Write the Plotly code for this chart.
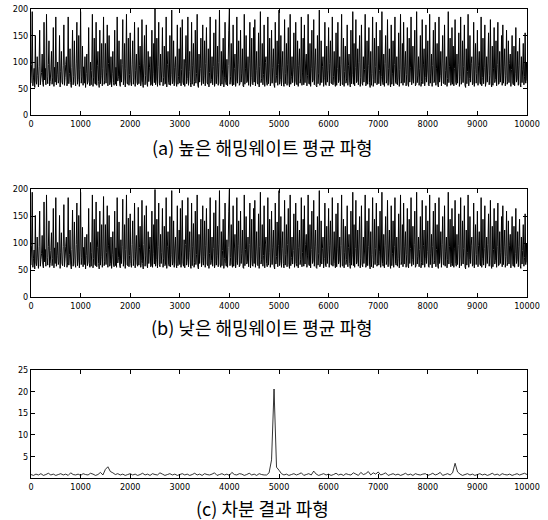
import plotly.graph_objects as go

# ---- data ----
series_a = [
    60, 95, 195, 55, 70, 88, 52, 150, 64, 58, 110, 75, 53, 92, 160, 57, 68, 80, 115, 61, 54, 175, 66, 88, 57, 190, 72, 59, 95, 140, 55, 63, 85, 120, 58, 70, 165, 54, 90, 62,
    185, 57, 76, 100, 60, 66, 150, 53, 82, 120, 62, 58, 94, 170, 56, 71, 95, 110, 55, 64, 185, 59, 78, 125, 61, 52, 89, 160, 57, 73, 140, 62, 55, 98, 175, 58, 67, 150, 54, 86,
    195, 60, 72, 130, 56, 91, 60, 110, 52, 78, 115, 58, 66, 165, 62, 55, 100, 57, 84, 190, 54, 70, 145, 60, 58, 175, 56, 93, 120, 63, 52, 160, 59, 74, 135, 55, 88, 185, 58, 65,
    135, 60, 81, 170, 55, 97, 150, 57, 62, 110, 53, 79, 120, 61, 56, 160, 58, 90, 55, 185, 64, 72, 140, 59, 54, 105, 62, 95, 180, 57, 68, 135, 53, 87, 190, 60, 58, 145, 56, 76,
    155, 62, 55, 96, 140, 58, 70, 175, 54, 84, 115, 61, 57, 165, 59, 93, 130, 55, 66, 180, 62, 52, 98, 150, 57, 75, 170, 60, 54, 120, 63, 89, 110, 56, 58, 160, 55, 79, 135, 61,
    200, 57, 68, 145, 54, 92, 175, 60, 56, 115, 62, 83, 165, 55, 71, 130, 58, 60, 185, 53, 95, 120, 61, 57, 150, 56, 77, 198, 59, 64, 140, 55, 90, 110, 62, 54, 170, 58, 73, 125,
    60, 165, 55, 86, 180, 62, 57, 105, 54, 98, 150, 59, 69, 185, 56, 82, 120, 61, 53, 175, 58, 94, 135, 55, 63, 160, 60, 78, 190, 57, 52, 115, 62, 88, 145, 56, 66, 170, 59, 74,
    140, 55, 97, 165, 61, 58, 125, 53, 80, 185, 60, 67, 110, 57, 91, 155, 54, 62, 180, 59, 76, 130, 56, 99, 198, 61, 55, 120, 58, 85, 145, 53, 70, 175, 62, 57, 105, 55, 93, 160,
    200, 58, 72, 135, 61, 55, 170, 57, 88, 115, 54, 66, 185, 60, 96, 140, 56, 59, 160, 62, 79, 125, 55, 53, 190, 58, 87, 150, 61, 64, 110, 56, 98, 175, 54, 71, 145, 59, 57, 165,
    62, 180, 55, 84, 120, 60, 58, 155, 53, 92, 195, 61, 69, 135, 57, 76, 170, 54, 99, 110, 62, 56, 185, 59, 81, 145, 55, 63, 160, 60, 90, 125, 57, 52, 175, 61, 74, 140, 56, 95,
    198, 58, 67, 150, 55, 89, 120, 62, 54, 180, 59, 78, 135, 56, 96, 165, 60, 53, 190, 58, 72, 110, 61, 85, 155, 55, 64, 175, 62, 57, 140, 54, 93, 125, 60, 68, 185, 56, 81, 145,
    57, 170, 61, 98, 115, 55, 75, 190, 60, 58, 135, 54, 87, 160, 62, 66, 180, 57, 94, 125, 55, 53, 150, 59, 79, 198, 56, 62, 140, 61, 91, 110, 54, 70, 175, 58, 56, 130, 62, 84,
    165, 55, 97, 140, 60, 59, 185, 57, 73, 120, 62, 54, 155, 56, 88, 175, 61, 65, 110, 55, 96, 190, 58, 57, 145, 54, 82, 130, 60, 68, 170, 56, 93, 115, 62, 53, 160, 59, 77, 195,
    58, 135, 55, 89, 180, 61, 64, 125, 57, 99, 150, 54, 71, 170, 60, 56, 110, 62, 86, 190, 55, 59, 140, 58, 94, 165, 61, 52, 120, 56, 78, 185, 54, 67, 145, 60, 91, 175, 57, 62,
    130, 59, 84, 160, 55, 73, 195, 62, 57, 115, 54, 97, 150, 60, 66, 180, 56, 88, 125, 61, 53, 170, 58, 79, 140, 55, 95, 185, 62, 59, 110, 57, 70, 155, 54, 86, 190, 60, 64, 135,
    56, 175, 61, 92, 120, 55, 77, 165, 58, 54, 145, 62, 89, 185, 57, 68, 130, 60, 98, 160, 55, 58, 195, 61, 74, 110, 56, 87, 150, 54, 63, 180, 59, 96, 125, 55, 71, 170, 62, 83,
    140, 57, 55, 190, 60, 79, 115, 54, 93, 160, 61, 66, 175, 56, 87, 135, 58, 53, 185, 62, 75, 120, 55, 98, 150, 60, 59, 170, 57, 84, 110, 54, 69, 195, 61, 92, 145, 56, 62, 165,
    58, 130, 55, 88, 180, 62, 57, 115, 60, 96, 155, 54, 73, 185, 58, 64, 140, 61, 91, 170, 56, 52, 125, 59, 82, 190, 55, 69, 150, 62, 97, 110, 57, 60, 175, 54, 86, 135, 60, 78,
    160, 56, 94, 120, 61, 58, 185, 55, 71, 145, 59, 89, 170, 54, 63, 110, 62, 98, 155, 57, 75, 180, 60, 53, 130, 56, 87, 165, 61, 67, 140, 55, 95, 175, 58, 59, 120, 62, 81, 150,
    56, 170, 60, 92, 125, 55, 74, 160, 58, 63, 140, 61, 97, 115, 54, 86, 150, 60, 57, 130, 55, 79, 165, 62, 68, 120, 56, 94, 145, 59, 53, 110, 61, 85, 135, 57, 72, 155, 60, 100,
    65,
]
series_b = [
    59, 96, 194, 55, 71, 87, 52, 151, 63, 58, 111, 74, 53, 93, 159, 57, 69, 80, 114, 61, 54, 176, 65, 88, 57, 189, 73, 59, 94, 141, 55, 62, 86, 119, 58, 71, 164, 54, 91, 62,
    184, 57, 77, 101, 60, 65, 151, 53, 83, 119, 62, 58, 93, 171, 56, 72, 94, 111, 55, 63, 184, 59, 79, 124, 61, 52, 88, 161, 57, 74, 139, 62, 55, 97, 174, 58, 68, 151, 54, 85,
    194, 60, 73, 129, 56, 92, 60, 111, 52, 77, 116, 58, 67, 164, 62, 55, 101, 57, 83, 189, 54, 71, 144, 60, 58, 176, 56, 92, 121, 62, 52, 159, 59, 75, 134, 55, 87, 186, 58, 66,
    134, 60, 82, 169, 55, 96, 151, 57, 62, 111, 53, 78, 121, 61, 56, 159, 58, 91, 55, 184, 63, 73, 139, 59, 54, 106, 62, 94, 181, 57, 69, 134, 53, 88, 189, 60, 58, 146, 56, 77,
    154, 62, 55, 97, 141, 58, 71, 174, 54, 85, 114, 61, 57, 166, 59, 92, 131, 55, 67, 179, 62, 52, 97, 151, 57, 76, 169, 60, 54, 121, 62, 88, 111, 56, 58, 159, 55, 80, 134, 61,
    199, 57, 69, 144, 54, 93, 174, 60, 56, 116, 62, 82, 164, 55, 72, 131, 58, 60, 184, 53, 94, 121, 61, 57, 149, 56, 78, 197, 59, 65, 141, 55, 89, 111, 62, 54, 169, 58, 74, 124,
    60, 164, 55, 87, 179, 62, 57, 106, 54, 97, 151, 59, 70, 184, 56, 83, 121, 61, 53, 174, 58, 93, 136, 55, 64, 159, 60, 79, 189, 57, 52, 116, 62, 87, 144, 56, 67, 169, 59, 75,
    141, 55, 96, 164, 61, 58, 126, 53, 81, 184, 60, 68, 111, 57, 90, 156, 54, 62, 179, 59, 77, 131, 56, 98, 197, 61, 55, 121, 58, 86, 144, 53, 71, 174, 62, 57, 106, 55, 92, 159,
    199, 58, 73, 134, 61, 55, 169, 57, 89, 116, 54, 67, 184, 60, 95, 141, 56, 59, 159, 62, 80, 124, 55, 53, 189, 58, 88, 149, 61, 65, 111, 56, 97, 174, 54, 72, 144, 59, 57, 164,
    62, 179, 55, 85, 121, 60, 58, 154, 53, 93, 194, 61, 70, 134, 57, 77, 169, 54, 98, 111, 62, 56, 184, 59, 82, 144, 55, 64, 159, 60, 91, 124, 57, 52, 174, 61, 75, 139, 56, 96,
    197, 58, 68, 149, 55, 90, 121, 62, 54, 179, 59, 79, 134, 56, 97, 164, 60, 53, 189, 58, 73, 111, 61, 86, 154, 55, 65, 174, 62, 57, 141, 54, 92, 124, 60, 69, 184, 56, 82, 144,
    57, 169, 61, 97, 116, 55, 76, 189, 60, 58, 134, 54, 88, 159, 62, 67, 179, 57, 93, 124, 55, 53, 149, 59, 80, 197, 56, 62, 141, 61, 90, 111, 54, 71, 174, 58, 56, 131, 62, 85,
    164, 55, 96, 141, 60, 59, 184, 57, 74, 121, 62, 54, 154, 56, 89, 174, 61, 66, 111, 55, 95, 189, 58, 57, 144, 54, 83, 131, 60, 69, 169, 56, 92, 116, 62, 53, 159, 59, 78, 194,
    58, 134, 55, 90, 179, 61, 65, 124, 57, 98, 149, 54, 72, 169, 60, 56, 111, 62, 87, 189, 55, 59, 141, 58, 93, 164, 61, 52, 121, 56, 79, 184, 54, 68, 144, 60, 90, 174, 57, 62,
    131, 59, 85, 159, 55, 74, 194, 62, 57, 116, 54, 96, 149, 60, 67, 179, 56, 89, 124, 61, 53, 169, 58, 80, 141, 55, 94, 184, 62, 59, 111, 57, 71, 154, 54, 87, 189, 60, 65, 134,
    56, 174, 61, 93, 121, 55, 78, 164, 58, 54, 144, 62, 90, 184, 57, 69, 131, 60, 97, 159, 55, 58, 194, 61, 75, 111, 56, 88, 149, 54, 64, 179, 59, 95, 124, 55, 72, 169, 62, 84,
    141, 57, 55, 189, 60, 80, 116, 54, 94, 159, 61, 67, 174, 56, 88, 134, 58, 53, 184, 62, 76, 121, 55, 97, 149, 60, 59, 169, 57, 85, 111, 54, 70, 194, 61, 93, 144, 56, 62, 164,
    58, 131, 55, 89, 179, 62, 57, 116, 60, 95, 154, 54, 74, 184, 58, 65, 141, 61, 90, 169, 56, 52, 124, 59, 83, 189, 55, 70, 149, 62, 96, 111, 57, 60, 174, 54, 87, 134, 60, 79,
    159, 56, 95, 121, 61, 58, 184, 55, 72, 144, 59, 90, 169, 54, 64, 111, 62, 97, 154, 57, 76, 179, 60, 53, 131, 56, 88, 164, 61, 68, 141, 55, 94, 174, 58, 59, 121, 62, 82, 149,
    56, 169, 60, 93, 124, 55, 75, 159, 58, 64, 141, 61, 96, 116, 54, 87, 149, 60, 57, 131, 55, 80, 164, 62, 69, 121, 56, 93, 144, 59, 53, 111, 61, 86, 134, 57, 73, 154, 60, 99,
    64,
]
series_c = [
    0.8, 0.6, 0.9, 0.7, 1.0, 0.6, 0.8, 1.1, 0.7, 0.9, 0.6, 0.8, 1.0, 0.7, 0.9, 0.6, 1.2, 0.8, 0.7, 0.9,
    0.6, 1.0, 0.8, 0.7, 1.1, 0.9, 0.6, 0.8, 1.3, 0.7, 2.0, 2.6, 1.5, 1.2, 0.8, 1.0, 0.7, 0.9, 0.6, 0.8,
    1.0, 0.7, 0.9, 0.6, 0.8, 1.1, 0.7, 0.9, 0.6, 1.0, 0.8, 0.7, 1.2, 0.9, 0.6, 0.8, 1.0, 0.7, 0.9, 0.6,
    0.8, 1.0, 0.7, 0.9, 0.6, 0.8, 1.1, 0.7, 0.9, 0.6, 1.0, 0.8, 0.7, 0.9, 1.2, 0.6, 0.8, 1.0, 0.7, 0.9,
    0.6, 1.3, 0.8, 0.7, 1.0, 0.9, 0.6, 0.8, 1.1, 0.7, 0.9, 0.6, 1.0, 0.8, 0.7, 0.7, 1.2, 4.2, 20.6, 2.5,
    1.8, 1.0, 0.7, 0.9, 0.6, 0.8, 1.0, 0.7, 0.9, 1.2, 0.6, 0.8, 1.0, 0.7, 1.6, 0.9, 0.6, 0.8, 1.0, 0.7,
    0.9, 0.6, 0.8, 1.1, 0.7, 0.9, 0.6, 1.0, 0.8, 0.7, 1.2, 0.9, 0.6, 1.3, 0.8, 1.0, 1.5, 0.7, 1.2, 0.9,
    1.4, 0.7, 0.9, 1.2, 0.6, 0.8, 1.0, 0.7, 0.9, 0.6, 0.8, 1.1, 0.7, 0.9, 0.6, 1.0, 0.8, 0.7, 0.9, 1.0,
    0.6, 0.8, 1.1, 0.7, 0.9, 1.3, 0.6, 0.8, 1.0, 0.7, 1.2, 3.4, 1.4, 0.9, 0.6, 0.8, 1.0, 0.7, 0.9, 0.6,
    0.8, 1.0, 0.7, 0.9, 0.6, 0.8, 1.1, 0.7, 0.9, 0.6, 1.0, 0.8, 0.7, 0.9, 0.6, 0.8, 1.0, 0.7, 0.9, 1.1,
    0.8,
]
x_max = 10000
x_ticks = list(range(0, 10001, 1000))
x_ticklabels = [str(v) for v in x_ticks]
y_ticks_ab = [0, 50, 100, 150, 200]
y_ticks_c = [5, 10, 15, 20, 25]
captions = ["(a) 높은 해밍웨이트 평균 파형", "(b) 낮은 해밍웨이트 평균 파형", "(c) 차분 결과 파형"]

# sample index -> time position (evenly sampled over 0..10000)
x_a = [i * x_max / (len(series_a) - 1) for i in range(len(series_a))]
x_b = [i * x_max / (len(series_b) - 1) for i in range(len(series_b))]
x_c = [i * x_max / (len(series_c) - 1) for i in range(len(series_c))]

W, H = 548, 520
def py(px):
    return 1 - px / H

fig = go.Figure()
line_ab = dict(color="black", width=1, simplify=False)
line_c = dict(color="black", width=0.8, simplify=False)
fig.add_trace(go.Scatter(x=x_a, y=series_a, mode="lines", line=line_ab, xaxis="x", yaxis="y"))
fig.add_trace(go.Scatter(x=x_b, y=series_b, mode="lines", line=line_ab, xaxis="x2", yaxis="y2"))
fig.add_trace(go.Scatter(x=x_c, y=series_c, mode="lines", line=line_c, xaxis="x3", yaxis="y3"))

tickfont = dict(family="Liberation Sans Narrow, DejaVu Sans Condensed, sans-serif", size=9, color="black")
xdom = [31 / W, 527 / W]
common_x = dict(range=[0, x_max], tickvals=x_ticks, ticktext=x_ticklabels, ticks="inside", ticklen=4,
                mirror="ticks", showline=True, linecolor="black", linewidth=1, showgrid=False,
                zeroline=False, tickfont=tickfont, domain=xdom, tickcolor="black", automargin=False)
common_y = dict(ticks="inside", ticklen=4, mirror="ticks", showline=True, linecolor="black",
                linewidth=1, showgrid=False, zeroline=False, tickfont=tickfont, tickcolor="black",
                automargin=False)

fig.update_layout(
    width=W, height=H, margin=dict(l=0, r=0, t=0, b=0, pad=0, autoexpand=False),
    paper_bgcolor="white", plot_bgcolor="white", showlegend=False,
    xaxis=dict(**common_x, anchor="y"),
    yaxis=dict(**common_y, range=[0, 200], tickvals=y_ticks_ab, domain=[py(115), py(9)], anchor="x"),
    xaxis2=dict(**common_x, anchor="y2"),
    yaxis2=dict(**common_y, range=[0, 200], tickvals=y_ticks_ab, domain=[py(297), py(189)], anchor="x2"),
    xaxis3=dict(**common_x, anchor="y3"),
    yaxis3=dict(**common_y, range=[0, 25], tickvals=y_ticks_c, domain=[py(478), py(370)], anchor="x3"),
)

cap_y = [147, 327, 508]
for txt, yc in zip(captions, cap_y):
    fig.add_annotation(text=txt, x=262 / W, y=py(yc), xref="paper", yref="paper",
                       showarrow=False, xanchor="center", yanchor="middle",
                       font=dict(family="Noto Sans CJK KR, sans-serif", size=18, color="black"))

fig.write_html("out.html")
